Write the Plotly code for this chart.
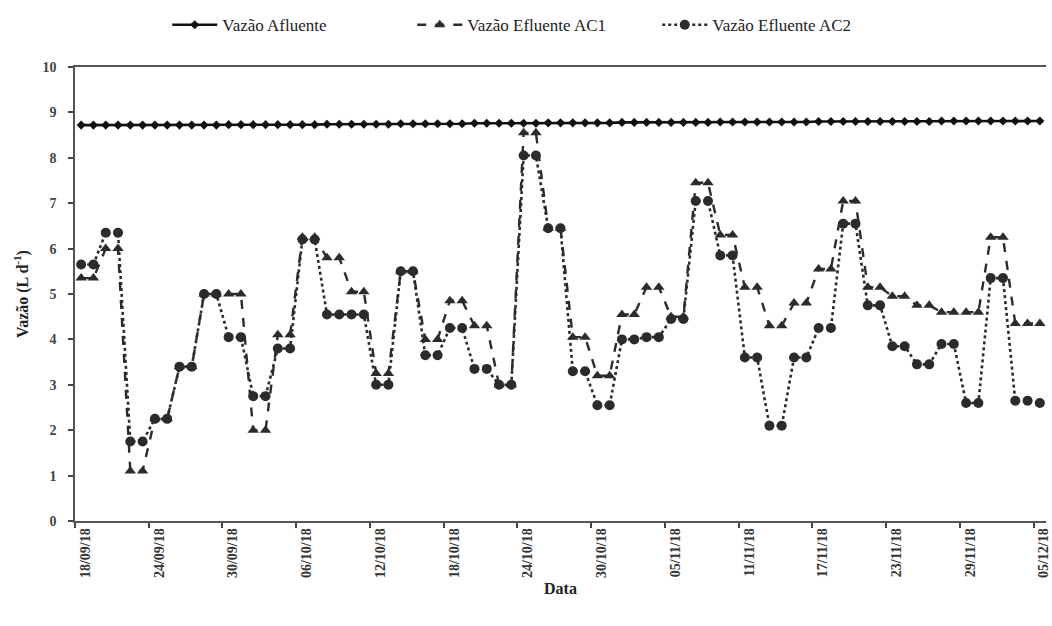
import pandas as pd
import plotly.graph_objects as go

# Daily sampling dates
start_date = "2018-09-18"
n_days = 79
dates = pd.date_range(start_date, periods=n_days, freq="D")

# Inflow (L/d)
vazao_afluente = [
    8.72, 8.72, 8.72, 8.72, 8.72, 8.72, 8.72, 8.72, 8.72, 8.72,
    8.72, 8.72, 8.73, 8.73, 8.73, 8.73, 8.73, 8.73, 8.73, 8.73,
    8.74, 8.74, 8.74, 8.74, 8.74, 8.74, 8.75, 8.75, 8.75, 8.75,
    8.75, 8.75, 8.76, 8.76, 8.76, 8.76, 8.76, 8.76, 8.77, 8.77,
    8.77, 8.77, 8.77, 8.77, 8.78, 8.78, 8.78, 8.78, 8.78, 8.78,
    8.78, 8.78, 8.79, 8.79, 8.79, 8.79, 8.79, 8.79, 8.79, 8.79,
    8.80, 8.80, 8.80, 8.80, 8.80, 8.80, 8.80, 8.80, 8.80, 8.80,
    8.81, 8.81, 8.81, 8.81, 8.81, 8.81, 8.81, 8.81, 8.81,
]

# Outflow, wetland AC1 (L/d)
vazao_ac1 = [
    5.35, 5.35, 6.00, 6.00, 1.10, 1.10, 2.25, 2.25, 3.40, 3.40,
    5.00, 5.00, 5.00, 5.00, 2.00, 2.00, 4.10, 4.10, 6.25, 6.25,
    5.80, 5.80, 5.05, 5.05, 3.25, 3.25, 5.50, 5.50, 4.00, 4.00,
    4.85, 4.85, 4.30, 4.30, 3.00, 3.00, 8.55, 8.55, 6.45, 6.45,
    4.05, 4.05, 3.20, 3.20, 4.55, 4.55, 5.15, 5.15, 4.50, 4.50,
    7.45, 7.45, 6.30, 6.30, 5.15, 5.15, 4.30, 4.30, 4.80, 4.80,
    5.55, 5.55, 7.05, 7.05, 5.15, 5.15, 4.95, 4.95, 4.75, 4.75,
    4.60, 4.60, 4.60, 4.60, 6.25, 6.25, 4.35, 4.35, 4.35,
]

# Outflow, wetland AC2 (L/d)
vazao_ac2 = [
    5.65, 5.65, 6.35, 6.35, 1.75, 1.75, 2.25, 2.25, 3.40, 3.40,
    5.00, 5.00, 4.05, 4.05, 2.75, 2.75, 3.80, 3.80, 6.20, 6.20,
    4.55, 4.55, 4.55, 4.55, 3.00, 3.00, 5.50, 5.50, 3.65, 3.65,
    4.25, 4.25, 3.35, 3.35, 3.00, 3.00, 8.05, 8.05, 6.45, 6.45,
    3.30, 3.30, 2.55, 2.55, 4.00, 4.00, 4.05, 4.05, 4.45, 4.45,
    7.05, 7.05, 5.85, 5.85, 3.60, 3.60, 2.10, 2.10, 3.60, 3.60,
    4.25, 4.25, 6.55, 6.55, 4.75, 4.75, 3.85, 3.85, 3.45, 3.45,
    3.90, 3.90, 2.60, 2.60, 5.35, 5.35, 2.65, 2.65, 2.60,
]

# Labelled dates on the time axis
tick_dates = pd.date_range(start_date, "2018-12-05", freq="6D")
tick_text = [d.strftime("%d/%m/%y") for d in tick_dates]

serif = "Liberation Serif, Times New Roman, serif"
ink = "#2b2b2b"

fig = go.Figure()

fig.add_trace(go.Scatter(
    x=dates, y=vazao_afluente, name="Vazão Afluente", mode="lines+markers",
    line=dict(color="#111111", width=2.6),
    marker=dict(symbol="diamond", size=7, color="#111111"),
))
fig.add_trace(go.Scatter(
    x=dates, y=vazao_ac1, name="Vazão Efluente AC1", mode="lines+markers",
    line=dict(color=ink, width=2.4, dash="dash"),
    marker=dict(symbol="triangle-up", size=10, color=ink),
))
fig.add_trace(go.Scatter(
    x=dates, y=vazao_ac2, name="Vazão Efluente AC2", mode="lines+markers",
    line=dict(color=ink, width=2.6, dash="dot"),
    marker=dict(symbol="circle", size=10, color=ink),
))

half_day = pd.Timedelta(hours=12)
label_shift = pd.Timedelta(hours=8)

fig.update_layout(
    width=1052, height=626,
    margin=dict(l=75, r=1, t=67, b=105),
    paper_bgcolor="white", plot_bgcolor="white",
    font=dict(family=serif, color="#333333"),
    showlegend=True,
    legend=dict(
        orientation="h", x=0.095, xanchor="left", y=1.092, yanchor="middle",
        font=dict(family=serif, size=17, color="#222222"),
        itemwidth=45, entrywidth=185, tracegroupgap=0,
    ),
    xaxis=dict(
        type="date",
        range=[dates[0] - half_day, dates[-1] + half_day],
        tickmode="array",
        tickvals=[d + label_shift for d in tick_dates],
        ticktext=tick_text,
        tickangle=-90,
        ticks="",
        ticklabeloverflow="allow",
        tickfont=dict(family=serif, size=14, color="#333333", weight="bold"),
        showline=True, linecolor="#555555", linewidth=1.5, mirror=True,
        showgrid=False, zeroline=False,
        minor=dict(
            tickmode="array",
            tickvals=[d - half_day for d in tick_dates],
            ticks="outside", ticklen=5, tickcolor="#444444", tickwidth=1.5,
            showgrid=False,
        ),
        title=dict(text="Data", standoff=6,
                   font=dict(family=serif, size=16, color="#222222", weight="bold")),
    ),
    yaxis=dict(
        range=[0, 10], tickmode="linear", tick0=0, dtick=1,
        ticks="outside", ticklen=5, tickcolor="#444444", tickwidth=1.5,
        ticklabelstandoff=9,
        tickfont=dict(family=serif, size=14, color="#444444", weight="bold"),
        showline=True, linecolor="#555555", linewidth=1.5,
        showgrid=False, zeroline=False,
        title=dict(text="Vazão (L d<sup>-1</sup>)", standoff=10,
                   font=dict(family=serif, size=16, color="#222222", weight="bold")),
    ),
)

fig.write_html("out.html")
